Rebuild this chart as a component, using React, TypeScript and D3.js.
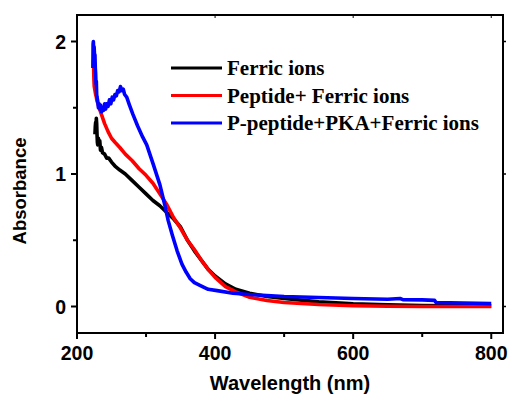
import React from "react";
import * as d3 from "d3";

const xTicks = [200, 400, 600, 800];
const xMinorTicks = [300, 500, 700];
const yTicks = [0, 1, 2];
const yMinorTicks = [0.5, 1.5];

const seriesNames = ["Ferric ions", "Peptide+ Ferric ions", "P-peptide+PKA+Ferric ions"];
const seriesColors = ["#000000", "#ff0000", "#0000ff"];

const ferric: [number, number][] = [
  [226, 1.3], [226.5, 1.36], [227, 1.39], [227.5, 1.34], [228, 1.42], [228.5, 1.38], [229, 1.3],
  [229.5, 1.24], [230, 1.22], [231, 1.27], [232, 1.22], [233, 1.25], [234, 1.18], [235.5, 1.2],
  [237, 1.16], [240, 1.15], [243, 1.12], [246, 1.12], [250, 1.09], [255, 1.06], [262, 1.03],
  [270, 1.0], [280, 0.95], [290, 0.9], [300, 0.85], [310, 0.8], [320, 0.76], [330, 0.71],
  [340, 0.66], [350, 0.6], [360, 0.5], [370, 0.42], [380, 0.35], [390, 0.28], [400, 0.23],
  [415, 0.17], [430, 0.13], [450, 0.1], [475, 0.075], [500, 0.06], [550, 0.035], [600, 0.02],
  [650, 0.012], [700, 0.008], [750, 0.006], [800, 0.005],
];

const peptide: [number, number][] = [
  [224, 1.86], [224.3, 1.75], [224.6, 1.7], [225, 1.66], [226, 1.63], [227, 1.6], [228, 1.58],
  [229, 1.55], [230.5, 1.53], [232, 1.5], [234, 1.47], [236, 1.44], [238, 1.41], [240, 1.38],
  [245, 1.32], [250, 1.27], [255, 1.24], [262, 1.2], [270, 1.15], [280, 1.1], [290, 1.04],
  [300, 0.99], [310, 0.93], [320, 0.85], [330, 0.77], [340, 0.67], [350, 0.59], [360, 0.5],
  [370, 0.43], [380, 0.35], [390, 0.28], [400, 0.22], [415, 0.15], [430, 0.11], [450, 0.07],
  [475, 0.045], [500, 0.03], [550, 0.015], [600, 0.006], [650, 0.002], [700, 0.0], [800, 0.0],
];

const pPeptide: [number, number][] = [
  [223, 1.8], [223.3, 1.98], [223.7, 2.0], [224.2, 1.93], [224.8, 1.96], [225.5, 1.88], [226, 1.9],
  [226.5, 1.8], [227, 1.76], [227.5, 1.68], [228, 1.7], [228.5, 1.6], [229, 1.58], [230, 1.55],
  [231, 1.5], [232, 1.53], [233, 1.49], [234, 1.52], [235.5, 1.47], [237, 1.5], [238.5, 1.48],
  [240, 1.53], [241.5, 1.49], [243, 1.53], [245, 1.51], [247, 1.56], [249, 1.53], [251, 1.58],
  [253, 1.56], [255, 1.6], [257, 1.59], [259, 1.63], [261, 1.62], [263, 1.66], [265, 1.63],
  [267, 1.64], [269, 1.6], [272, 1.58], [276, 1.52], [281, 1.45], [288, 1.36], [295, 1.28],
  [301, 1.22], [310, 1.08], [320, 0.92], [327, 0.77], [332, 0.65], [338, 0.54], [345, 0.42],
  [352, 0.32], [358, 0.26], [364, 0.21], [370, 0.18], [378, 0.16], [390, 0.13], [403, 0.12],
  [426, 0.1], [450, 0.09], [500, 0.075], [550, 0.068], [600, 0.06], [650, 0.055], [668, 0.06],
  [672, 0.052], [700, 0.05], [718, 0.046], [720, 0.03], [760, 0.026], [800, 0.022],
];

const seriesData = [ferric, peptide, pPeptide];

const W = 510;
const H = 399;
const left = 77;
const right = 503;
const top = 15;
const bottom = 333;

export default function App() {
  const x = d3.scaleLinear().domain([200, 817]).range([left, right]);
  const y = d3.scaleLinear().domain([-0.2, 2.2]).range([bottom, top]);
  const line = d3
    .line<[number, number]>()
    .x((d) => x(d[0]))
    .y((d) => y(d[1]));

  const sans = "'Liberation Sans', Arial, sans-serif";
  const serif = "'Liberation Serif', 'Times New Roman', serif";

  return (
    <svg
      width={W}
      height={H}
      style={{ position: "absolute", left: 0, top: 0, background: "#fff" }}
    >
      {seriesData.map((s, i) => (
        <path
          key={i}
          d={line(s) || ""}
          fill="none"
          stroke={seriesColors[i]}
          strokeWidth={3.6}
          strokeLinejoin="round"
        />
      ))}
      <rect
        x={left}
        y={top}
        width={right - left}
        height={bottom - top}
        fill="none"
        stroke="#000"
        strokeWidth={2}
      />
      {xTicks.map((t) => (
        <g key={"xt" + t}>
          <line x1={x(t)} x2={x(t)} y1={bottom} y2={bottom + 6} stroke="#000" strokeWidth={2} />
          <line x1={x(t)} x2={x(t)} y1={top} y2={top + 3} stroke="#000" strokeWidth={1} />
          <text
            x={x(t)}
            y={360}
            textAnchor="middle"
            fontFamily={sans}
            fontWeight="bold"
            fontSize={19.5}
          >
            {t}
          </text>
        </g>
      ))}
      {xMinorTicks.map((t) => (
        <line key={"xm" + t} x1={x(t)} x2={x(t)} y1={bottom} y2={bottom + 4} stroke="#000" strokeWidth={2} />
      ))}
      {yTicks.map((t) => (
        <g key={"yt" + t}>
          <line x1={left - 6} x2={left} y1={y(t)} y2={y(t)} stroke="#000" strokeWidth={2} />
          <line x1={right} x2={right + 3} y1={y(t)} y2={y(t)} stroke="#000" strokeWidth={1.5} />
          <text
            x={66}
            y={y(t)}
            dy="0.36em"
            textAnchor="end"
            fontFamily={sans}
            fontWeight="bold"
            fontSize={19.5}
          >
            {t}
          </text>
        </g>
      ))}
      {yMinorTicks.map((t) => (
        <line key={"ym" + t} x1={left - 4} x2={left} y1={y(t)} y2={y(t)} stroke="#000" strokeWidth={2} />
      ))}
      <text
        x={290}
        y={390}
        textAnchor="middle"
        fontFamily={sans}
        fontWeight="bold"
        fontSize={20}
      >
        Wavelength (nm)
      </text>
      <text
        transform="translate(26,191) rotate(-90)"
        textAnchor="middle"
        fontFamily={sans}
        fontWeight="bold"
        fontSize={18.5}
      >
        Absorbance
      </text>
      {seriesNames.map((n, i) => {
        const ly = 68 + i * 27.5;
        return (
          <g key={"lg" + i}>
            <line x1={171} x2={222} y1={ly} y2={ly} stroke={seriesColors[i]} strokeWidth={3.2} />
            <text x={227} y={ly + 7} fontFamily={serif} fontWeight="bold" fontSize={21}>
              {n}
            </text>
          </g>
        );
      })}
    </svg>
  );
}
